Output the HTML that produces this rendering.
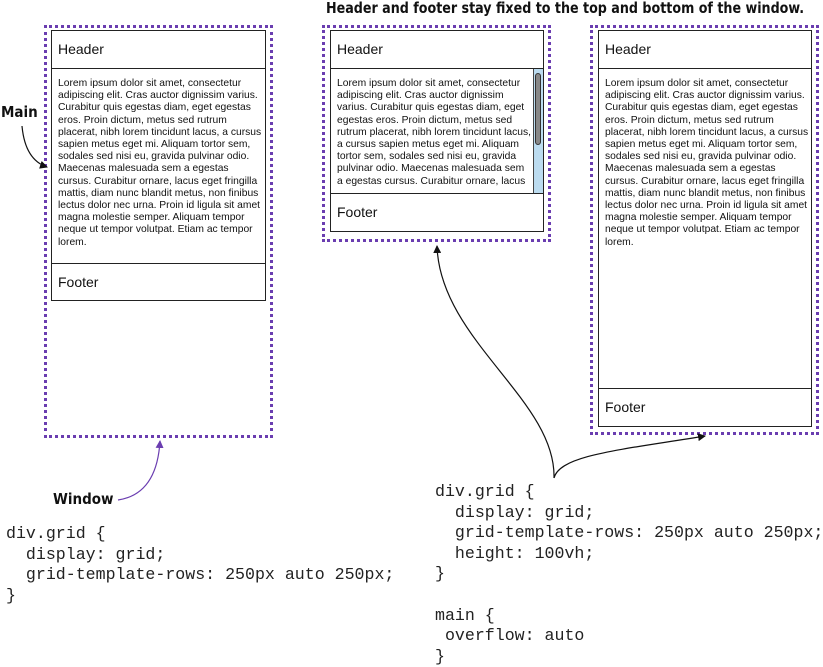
<!DOCTYPE html>
<html><head><meta charset="utf-8"><style>
body{margin:0;width:823px;height:662px;background:#fff;position:relative;overflow:hidden;font-family:"Liberation Sans",sans-serif;color:#111}
.dot{position:absolute;border:3px dotted #6a3db0;box-sizing:border-box}
.box{position:absolute;border:1.5px solid #222;box-sizing:border-box;background:#fff}
.sec{position:absolute;left:0;right:0;box-sizing:border-box}
.hd{font-size:14px;padding:10px 0 0 6px}
.txt{font-size:10.3px;line-height:12.2px;padding:9px 0 0 6px;white-space:nowrap;overflow:hidden}
.code{position:absolute;font-family:"Liberation Mono",monospace;font-size:16.6px;white-space:pre;color:#222}
.lbl{position:absolute;font-weight:bold;font-family:"DejaVu Sans Condensed","Liberation Sans Narrow","Liberation Sans",sans-serif;font-size:15px;white-space:nowrap}
</style></head><body>
<div class="lbl" style="left:326px;top:-1px;font-size:15.5px;transform:scaleX(0.91);transform-origin:0 0">Header and footer stay fixed to the top and bottom of the window.</div>

<div class="dot" style="left:44px;top:25px;width:229px;height:413px"></div>
<div class="box" style="left:51px;top:30px;width:215px;height:271px">
 <div class="sec hd" style="top:0;height:38px;border-bottom:1.5px solid #222">Header</div>
 <div class="sec txt" style="top:38px;height:195px">Lorem ipsum dolor sit amet, consectetur<br>adipiscing elit. Cras auctor dignissim varius.<br>Curabitur quis egestas diam, eget egestas<br>eros. Proin dictum, metus sed rutrum<br>placerat, nibh lorem tincidunt lacus, a cursus<br>sapien metus eget mi. Aliquam tortor sem,<br>sodales sed nisi eu, gravida pulvinar odio.<br>Maecenas malesuada sem a egestas<br>cursus. Curabitur ornare, lacus eget fringilla<br>mattis, diam nunc blandit metus, non finibus<br>lectus dolor nec urna. Proin id ligula sit amet<br>magna molestie semper. Aliquam tempor<br>neque ut tempor volutpat. Etiam ac tempor<br>lorem.</div>
 <div class="sec hd" style="top:232px;height:37px;border-top:1.5px solid #222">Footer</div>
</div>

<div class="dot" style="left:322px;top:25px;width:229px;height:217px"></div>
<div class="box" style="left:330px;top:30px;width:214px;height:202px">
 <div class="sec hd" style="top:0;height:38px;border-bottom:1.5px solid #222">Header</div>
 <div class="sec txt" style="top:38px;height:125px;right:11px">Lorem ipsum dolor sit amet, consectetur<br>adipiscing elit. Cras auctor dignissim<br>varius. Curabitur quis egestas diam, eget<br>egestas eros. Proin dictum, metus sed<br>rutrum placerat, nibh lorem tincidunt lacus,<br>a cursus sapien metus eget mi. Aliquam<br>tortor sem, sodales sed nisi eu, gravida<br>pulvinar odio. Maecenas malesuada sem<br>a egestas cursus. Curabitur ornare, lacus</div>
 <div style="position:absolute;left:202px;top:38px;width:9px;height:125px;background:#bcdcf0;border-left:1px solid #444"></div>
 <div style="position:absolute;left:204px;top:42px;width:4px;height:70px;background:#888;border:1px solid #333;border-radius:3px"></div>
 <div class="sec hd" style="top:162px;height:38px;border-top:1.5px solid #222">Footer</div>
</div>

<div class="dot" style="left:590px;top:25px;width:229px;height:410px"></div>
<div class="box" style="left:598px;top:30px;width:214px;height:397px">
 <div class="sec hd" style="top:0;height:38px;border-bottom:1.5px solid #222">Header</div>
 <div class="sec txt" style="top:38px;height:320px">Lorem ipsum dolor sit amet, consectetur<br>adipiscing elit. Cras auctor dignissim varius.<br>Curabitur quis egestas diam, eget egestas<br>eros. Proin dictum, metus sed rutrum<br>placerat, nibh lorem tincidunt lacus, a cursus<br>sapien metus eget mi. Aliquam tortor sem,<br>sodales sed nisi eu, gravida pulvinar odio.<br>Maecenas malesuada sem a egestas<br>cursus. Curabitur ornare, lacus eget fringilla<br>mattis, diam nunc blandit metus, non finibus<br>lectus dolor nec urna. Proin id ligula sit amet<br>magna molestie semper. Aliquam tempor<br>neque ut tempor volutpat. Etiam ac tempor<br>lorem.</div>
 <div class="sec hd" style="top:357px;height:38px;border-top:1.5px solid #222">Footer</div>
</div>

<div class="lbl" style="left:1px;top:103px">Main</div>
<div class="lbl" style="left:53px;top:490px">Window</div>

<svg style="position:absolute;left:0;top:0" width="823" height="662">
 <defs>
  <marker id="a" markerWidth="8" markerHeight="8" refX="7" refY="4" orient="auto" markerUnits="userSpaceOnUse"><path d="M0,0 L8,4 L0,8 z" fill="#111"/></marker>
  <marker id="p" markerWidth="8" markerHeight="8" refX="7" refY="4" orient="auto" markerUnits="userSpaceOnUse"><path d="M0,0 L8,4 L0,8 z" fill="#6a3db0"/></marker>
 </defs>
 <path d="M22,126 C24,148 32,162 47,167" fill="none" stroke="#111" stroke-width="1.2" marker-end="url(#a)"/>
 <path d="M118,500 C145,496 158,475 160,441" fill="none" stroke="#6a3db0" stroke-width="1.2" marker-end="url(#p)"/>
 <path d="M554,478 C556,400 440,340 437,246" fill="none" stroke="#111" stroke-width="1.2" marker-end="url(#a)"/>
 <path d="M554,478 C560,455 620,450 705,436" fill="none" stroke="#111" stroke-width="1.2" marker-end="url(#a)"/>
</svg>

<div class="code" style="left:6px;top:524px;line-height:20.5px">div.grid {
  display: grid;
  grid-template-rows: 250px auto 250px;
}</div>
<div class="code" style="left:435px;top:482px;line-height:20.6px">div.grid {
  display: grid;
  grid-template-rows: 250px auto 250px;
  height: 100vh;
}

main {
 overflow: auto
}</div>
</body></html>
